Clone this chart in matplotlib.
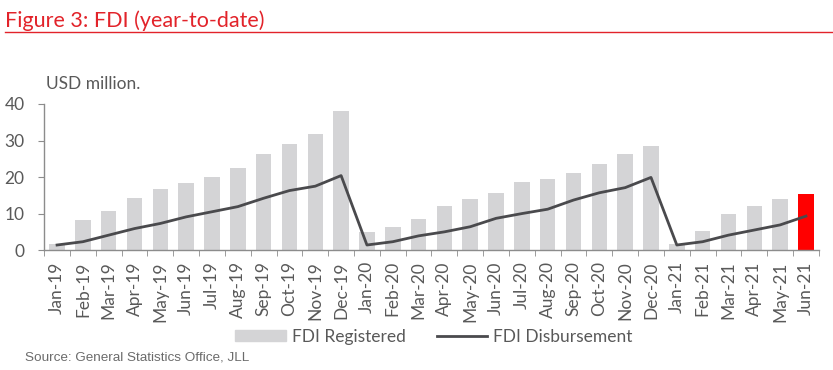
import numpy as np
from matplotlib import pyplot as plt
from matplotlib.patches import Patch
from matplotlib.lines import Line2D

months = ['Jan-19', 'Feb-19', 'Mar-19', 'Apr-19', 'May-19', 'Jun-19', 'Jul-19', 'Aug-19',
          'Sep-19', 'Oct-19', 'Nov-19', 'Dec-19', 'Jan-20', 'Feb-20', 'Mar-20', 'Apr-20',
          'May-20', 'Jun-20', 'Jul-20', 'Aug-20', 'Sep-20', 'Oct-20', 'Nov-20', 'Dec-20',
          'Jan-21', 'Feb-21', 'Mar-21', 'Apr-21', 'May-21', 'Jun-21']
registered = [1.7, 8.3, 10.7, 14.4, 16.7, 18.4, 20.1, 22.6, 26.2, 29.1, 31.9, 38.1,
              5.0, 6.4, 8.5, 12.1, 13.9, 15.6, 18.7, 19.5, 21.1, 23.5, 26.3, 28.5,
              1.8, 5.2, 9.9, 12.1, 13.9, 15.3]
disbursed = [1.4, 2.3, 4.1, 5.9, 7.3, 9.1, 10.5, 11.9, 14.2, 16.3, 17.5, 20.4,
             1.4, 2.3, 3.9, 5.0, 6.4, 8.7, 10.0, 11.2, 13.7, 15.7, 17.1, 19.9,
             1.4, 2.3, 4.1, 5.5, 6.9, 9.3]

grey_txt = '#595959'
bar_col = '#d4d4d6'
line_col = '#4a4a4d'
red = '#e2232a'

plt.rcParams['font.family'] = ['Lato', 'DejaVu Sans']

fig = plt.figure(figsize=(8.33, 3.7), dpi=100)
ax = fig.add_axes([0.053, 0.324, 0.930, 0.395])

x = np.arange(len(months))
colors = [bar_col] * (len(months) - 1) + ['#ff0000']
ax.bar(x, registered, width=0.6, color=colors, zorder=1)
ax.plot(x, disbursed, color=line_col, lw=2.0, zorder=2)

ax.set_xlim(-0.5, len(months) - 0.5)
ax.set_ylim(0, 40)
ax.set_yticks([0, 10, 20, 30, 40])
ax.set_xticks(x)
ax.set_xticklabels(months, rotation=90, fontsize=12.5, color=grey_txt)
ax.set_xticks(np.arange(len(months) + 1) - 0.5, minor=True)
ax.tick_params(axis='x', which='major', length=0, pad=8)
ax.tick_params(axis='x', which='minor', length=4, color='#8c8c8c', direction='out')
ax.tick_params(axis='y', length=4, color='#8c8c8c', labelsize=12.5, labelcolor=grey_txt, pad=10)
for s in ['top', 'right']:
    ax.spines[s].set_visible(False)
for s in ['left', 'bottom']:
    ax.spines[s].set_color('#8c8c8c')
    ax.spines[s].set_linewidth(1.0)

fig.text(0.055, 0.772, 'USD million.', fontsize=12.5, color=grey_txt, va='center')

# title and rule
fig.text(0.006, 0.943, 'Figure 3: FDI (year-to-date)', fontsize=15.5, color=red, va='center')
fig.add_artist(Line2D([0.006, 1.0], [0.913, 0.913], color=red, lw=1.0))

handles = [Patch(color=bar_col), Line2D([], [], color=line_col, lw=2.0)]
fig.legend(handles, ['FDI Registered', 'FDI Disbursement'], loc='center',
           bbox_to_anchor=(0.521, 0.089), ncol=2, frameon=False, fontsize=12.5,
           handlelength=2.9, handleheight=0.6, handletextpad=0.35, columnspacing=1.8,
           labelcolor=grey_txt)

fig.text(0.03, 0.035, 'Source: General Statistics Office, JLL', fontsize=9.7,
         color='#6b6b6b', family=['Liberation Sans', 'DejaVu Sans'], va='center')

fig.savefig('out.png', dpi=100)
